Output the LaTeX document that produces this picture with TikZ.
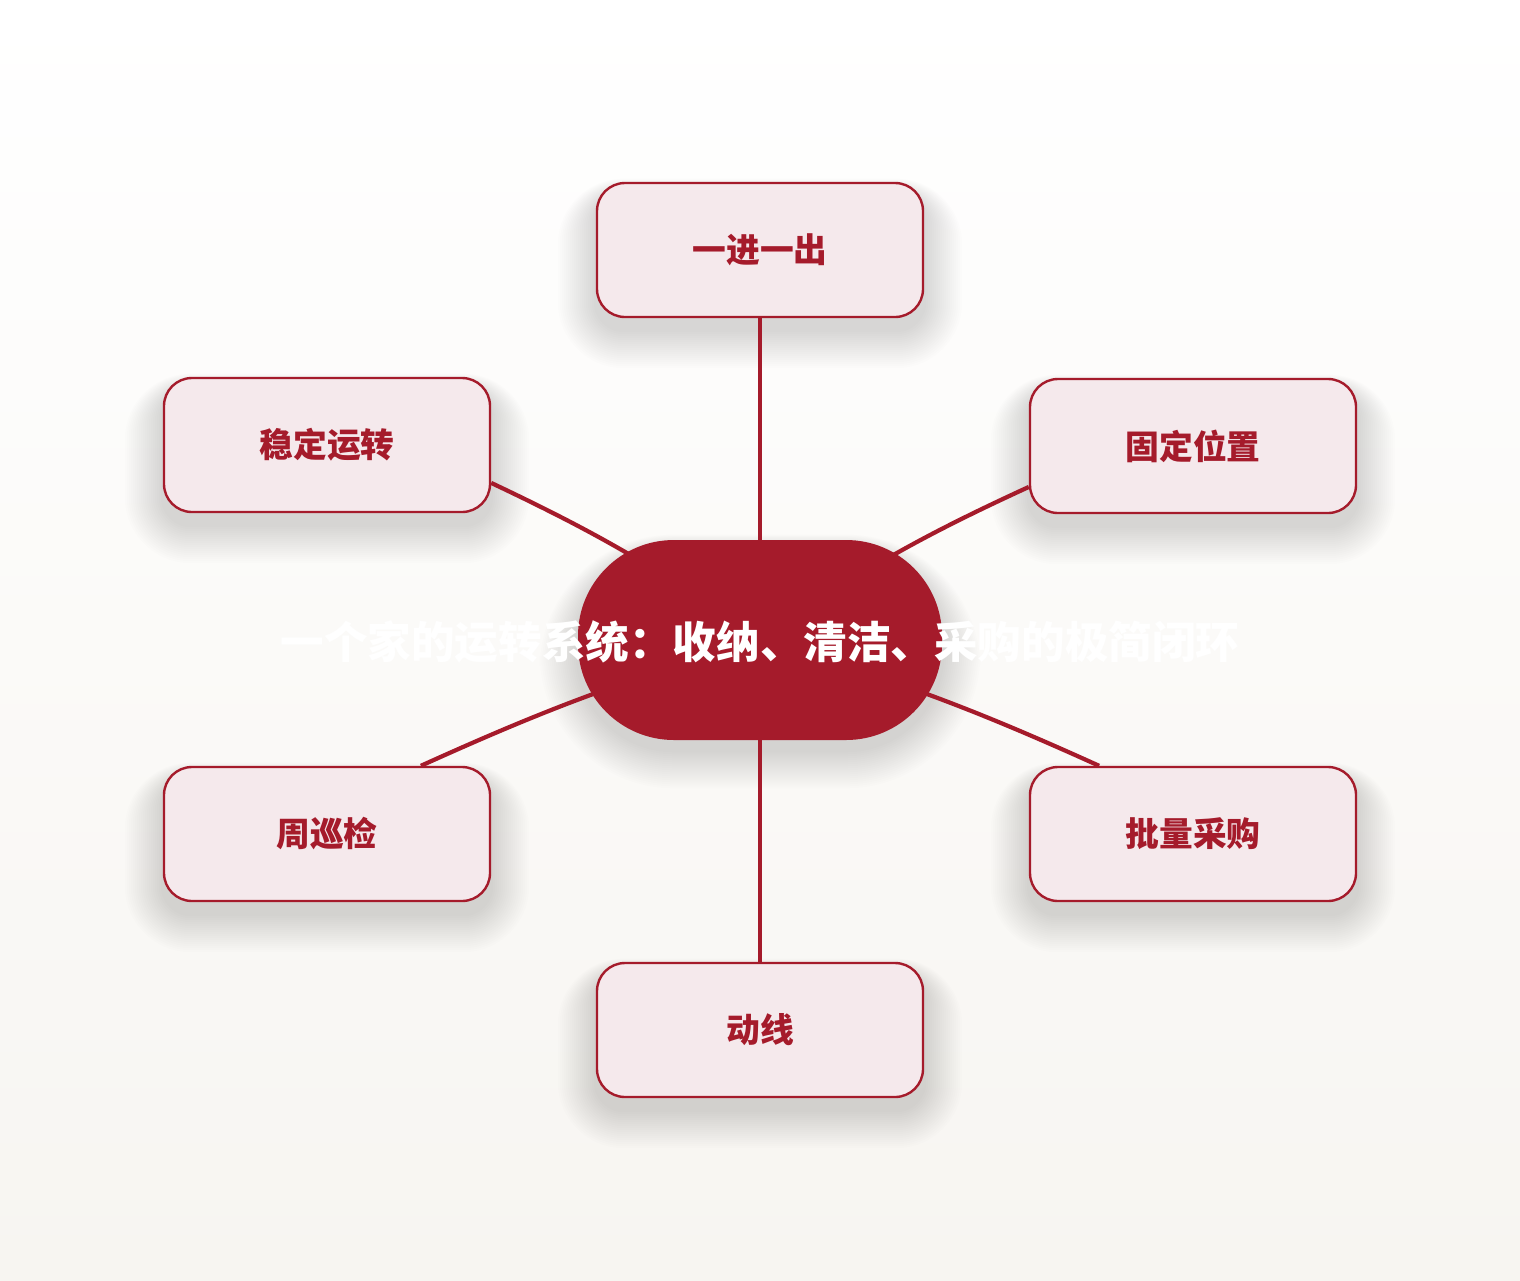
\documentclass[tikz,border=0pt]{standalone}
\usepackage{fontspec}
\newfontfamily\cjk{Noto Sans CJK SC}
\pgfdeclarelayer{background}
\pgfsetlayers{background,main}
\definecolor{deepred}{HTML}{A51B2B}
\definecolor{rosefill}{HTML}{F5E9EC}
\definecolor{paper}{HTML}{F7F5F1}
\tikzset{
  leaf/.style = {draw=deepred, line width=1.7pt, fill=rosefill, rounded corners=7mm,
    minimum width=81.5mm, minimum height=33.5mm, text=deepred,
    font=\cjk\bfseries\fontsize{24}{28}\selectfont},
  hub/.style = {fill=deepred, rounded corners=24mm, minimum width=91mm, minimum height=50mm},
  spoke/.style = {draw=deepred, line width=3pt}
}
% soft shadow under a node: name, corner radius (px), drop (px)
\newcommand\softshade[3]{%
  \foreach \i in {2,4,...,38}{%
    \pgfmathsetmacro\rr{(#2+\i)*0.7113}%
    \fill[black, opacity=0.009, rounded corners=\rr pt]
      ([shift={(-\i,-0.4*\i+#3)}]#1.north west) rectangle ([shift={(\i,\i+#3)}]#1.south east);
  }}
\begin{document}
\begin{tikzpicture}[x=0.25mm, y=-0.25mm]
        \useasboundingbox (0,0) rectangle (1520,1280);
        \node[hub]  (hub)    at ( 760, 640) {};
        \node[leaf] (inout)  at ( 760, 250) {一进一出};
        \node[leaf] (steady) at ( 327, 445) {稳定运转};
        \node[leaf] (fixed)  at (1193, 446) {固定位置};
        \node[leaf] (weekly) at ( 327, 834) {周巡检};
        \node[leaf] (bulk)   at (1193, 834) {批量采购};
        \node[leaf] (route)  at ( 760,1030) {动线};
        \node[text=white, font=\cjk\bfseries\fontsize{31}{36}\selectfont] (title) at (760,642)
          {一个家的运转系统：收纳、清洁、采购的极简闭环};
        \begin{pgfonlayer}{background}
          \fill[top color=white, bottom color=paper] (0,0) rectangle (1520,1280);
          \softshade{hub}{96}{10}
          \foreach \n in {inout,steady,fixed,weekly,bulk,route}
            {\softshade{\n}{28}{12}}
          \draw[spoke] (hub.center) -- (inout.south);
          \draw[spoke] (hub.center) to[bend right=5] (steady.-13);
          \draw[spoke] (hub.center) to[bend left=5]  (fixed.-166);
          \draw[spoke] (hub.center) to[bend right=4] (weekly.36);
          \draw[spoke] (hub.center) to[bend left=4]  (bulk.144);
          \draw[spoke] (hub.center) -- (route.north);
        \end{pgfonlayer}
      \end{tikzpicture}
\end{document}
